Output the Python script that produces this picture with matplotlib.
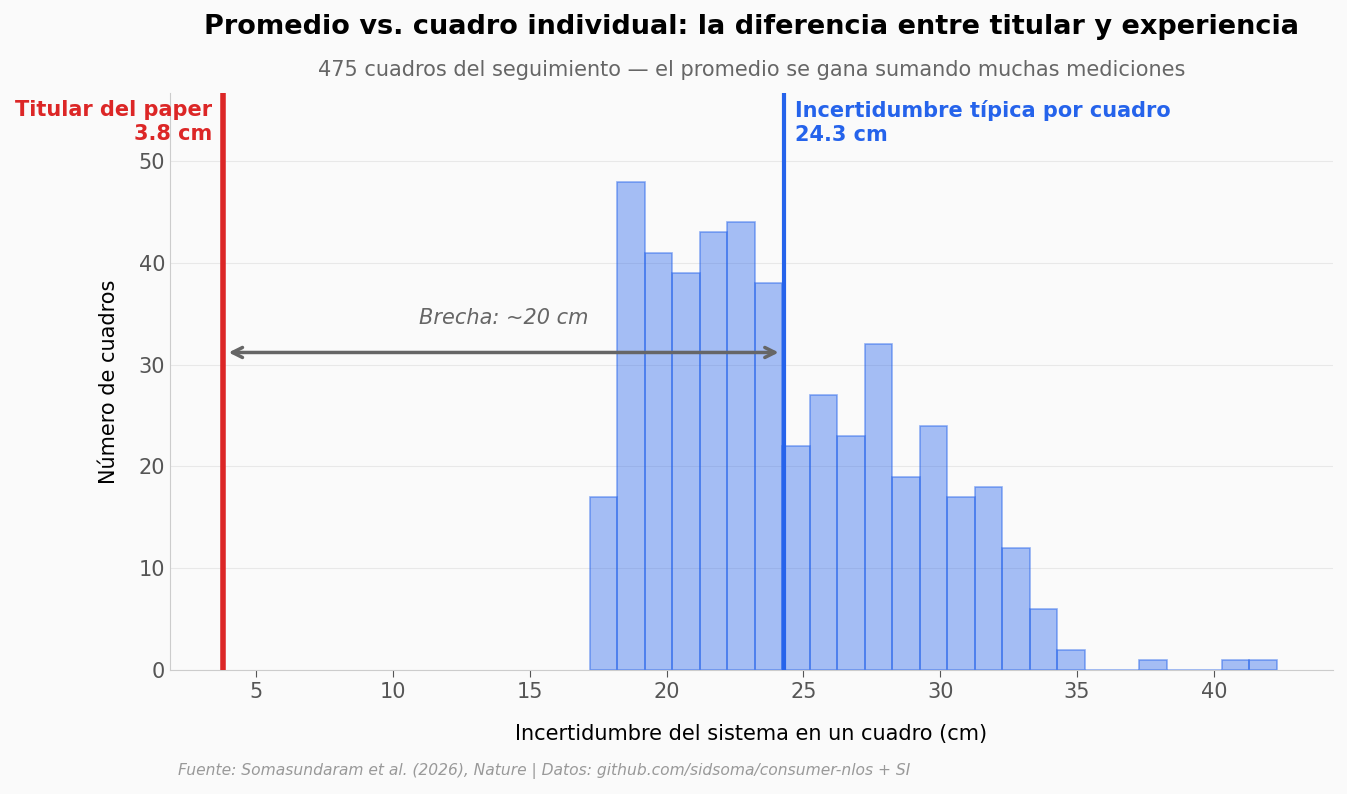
import numpy as np
import matplotlib
matplotlib.use("Agg")
import matplotlib.pyplot as plt

# histogram counts (bin width ~1 cm, starting ~17.2 cm)
bin_start = 17.2
bin_end = 42.3
counts = [17, 48, 41, 39, 43, 44, 38, 22, 27, 23, 32, 19, 24, 17, 18, 12, 6, 2,
          0, 0, 1, 0, 0, 1, 1]
headline = 3.8
typical = 24.3

edges = np.linspace(bin_start, bin_end, len(counts) + 1)
centers = (edges[:-1] + edges[1:]) / 2

blue = "#2563eb"
red = "#dc2626"
bg = "#fafafa"

fig = plt.figure(figsize=(13.47, 7.94), dpi=100, facecolor=bg)
ax = fig.add_axes([0.1262, 0.1562, 0.8634, 0.7267])
ax.set_facecolor(bg)

ax.hist(centers, bins=edges, weights=counts, facecolor=(0.145, 0.388, 0.922, 0.4),
        edgecolor=(0.145, 0.388, 0.922, 0.5), linewidth=1.2, zorder=2)

ax.axvline(headline, color=red, lw=4, zorder=3)
ax.axvline(typical, color=blue, lw=3, zorder=3)

ax.annotate("", xy=(headline + 0.1, 31.2), xytext=(typical - 0.1, 31.2),
            arrowprops=dict(arrowstyle="<->", color="#666666", lw=2.5,
                            mutation_scale=18), zorder=4)
ax.text((headline + typical) / 2, 33.6, "Brecha: ~20 cm", ha="center", va="bottom",
        fontsize=15, style="italic", color="#666666")

ax.text(headline - 0.4, 56.0, "Titular del paper\n3.8 cm", ha="right", va="top",
        fontsize=15, fontweight="bold", color=red, linespacing=1.25)
ax.text(typical + 0.4, 56.0, "Incertidumbre típica por cuadro\n24.3 cm", ha="left",
        va="top", fontsize=15, fontweight="bold", color=blue, linespacing=1.25)

ax.set_xlim(1.86, 44.35)
ax.set_ylim(0, 56.7)
ax.set_xticks([5, 10, 15, 20, 25, 30, 35, 40])
ax.set_yticks([0, 10, 20, 30, 40, 50])
ax.grid(axis="y", color="#e8e8e8", lw=0.8, zorder=0)
ax.set_axisbelow(True)
for s in ["top", "right"]:
    ax.spines[s].set_visible(False)
for s in ["left", "bottom"]:
    ax.spines[s].set_color("#cccccc")
ax.tick_params(axis="both", labelsize=15, colors="#555555", length=5)
ax.tick_params(axis="y", length=0)
ax.set_xlabel("Incertidumbre del sistema en un cuadro (cm)", fontsize=15, labelpad=16)
ax.set_ylabel("Número de cuadros", fontsize=15, labelpad=14)

fig.text(0.558, 0.966, "Promedio vs. cuadro individual: la diferencia entre titular y experiencia",
         ha="center", va="center", fontsize=19.5, fontweight="bold")
fig.text(0.558, 0.912, "475 cuadros del seguimiento — el promedio se gana sumando muchas mediciones",
         ha="center", va="center", fontsize=15, color="#666666")
fig.text(0.132, 0.029, "Fuente: Somasundaram et al. (2026), Nature | Datos: github.com/sidsoma/consumer-nlos + SI",
         ha="left", va="center", fontsize=11.2, style="italic", color="#999999")

fig.savefig("out.png", dpi=100, facecolor=bg)
